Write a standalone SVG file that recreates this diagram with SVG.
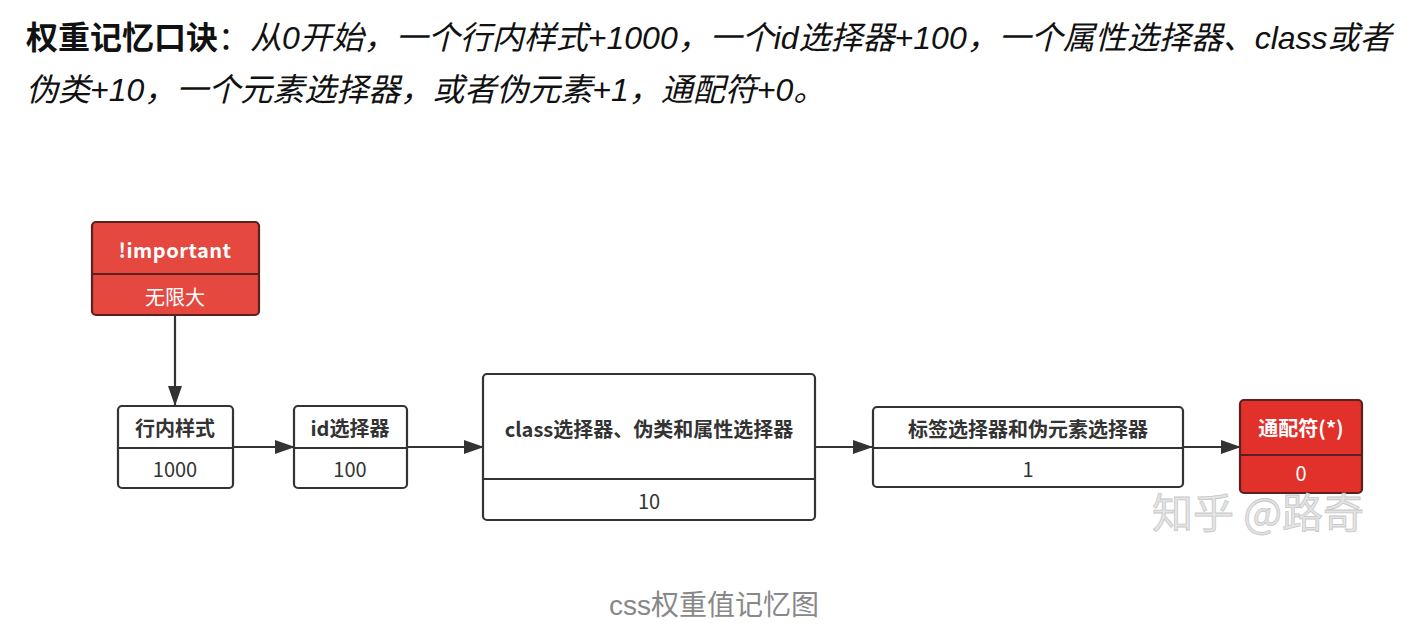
<svg xmlns="http://www.w3.org/2000/svg" width="1428" height="640" viewBox="0 0 1428 640">
<defs>
<marker id="arr" markerWidth="20" markerHeight="14" refX="19" refY="7" orient="auto" markerUnits="userSpaceOnUse">
<path d="M0,0 L20,7 L0,14 Z" fill="#333"/>
</marker>
</defs>
<style>
.hd{font-family:"Liberation Sans","Noto Sans CJK SC",sans-serif;font-size:32px;fill:#111}
.box{fill:#fff;stroke:#333;stroke-width:2.2}
.red1{fill:#e5483f;stroke:#5b2020;stroke-width:2.2}
.red2{fill:#e2302a;stroke:#5b2020;stroke-width:2.2}
.dv{stroke:#333;stroke-width:2.2}
.dvr{stroke:#5b2020;stroke-width:2.2}
.t{font-family:"Noto Sans CJK SC",sans-serif;font-size:20px;fill:#333;text-anchor:middle;dominant-baseline:central}
.b{font-weight:bold}
.w{fill:#fff}
.conn{stroke:#333;stroke-width:2.2;fill:none}
</style>
<rect width="1428" height="640" fill="#fff"/>
<text class="hd" x="26" y="49"><tspan font-weight="bold">权重记忆口诀</tspan>：<tspan font-style="italic">从0开始，一个行内样式+1000，一个id选择器+100，一个属性选择器、class或者</tspan></text>
<text class="hd" x="26" y="101" font-style="italic">伪类+10，一个元素选择器，或者伪元素+1，通配符+0。</text>
<g id="connectors">
<line class="conn" x1="175" y1="316" x2="175" y2="405" marker-end="url(#arr)"/>
<line class="conn" x1="233" y1="447" x2="294" y2="447" marker-end="url(#arr)"/>
<line class="conn" x1="407" y1="447" x2="483" y2="447" marker-end="url(#arr)"/>
<line class="conn" x1="815" y1="447" x2="872" y2="447" marker-end="url(#arr)"/>
<line class="conn" x1="1183" y1="447" x2="1240" y2="447" marker-end="url(#arr)"/>
</g>
<g id="important">
<rect class="red1" x="92" y="222" width="167" height="93" rx="4"/>
<line class="dvr" x1="92" y1="274" x2="259" y2="274"/>
<text class="t b w" x="175" y="249" letter-spacing="0.5">!important</text>
<text class="t w" x="175" y="296">无限大</text>
</g>
<g id="inline">
<rect class="box" x="118" y="406" width="115" height="82" rx="4"/>
<line class="dv" x1="118" y1="448" x2="233" y2="448"/>
<text class="t b" x="175" y="427">行内样式</text>
<text class="t" x="175" y="468">1000</text>
</g>
<g id="idsel">
<rect class="box" x="294" y="406" width="113" height="82" rx="4"/>
<line class="dv" x1="294" y1="448" x2="407" y2="448"/>
<text class="t b" x="350" y="427">id选择器</text>
<text class="t" x="350" y="468">100</text>
</g>
<g id="classsel">
<rect class="box" x="483" y="374" width="332" height="146" rx="4"/>
<line class="dv" x1="483" y1="479" x2="815" y2="479"/>
<text class="t b" x="649" y="428">class选择器、伪类和属性选择器</text>
<text class="t" x="649" y="500">10</text>
</g>
<g id="tagsel">
<rect class="box" x="873" y="407" width="310" height="80" rx="4"/>
<line class="dv" x1="873" y1="448" x2="1183" y2="448"/>
<text class="t b" x="1028" y="428">标签选择器和伪元素选择器</text>
<text class="t" x="1028" y="468">1</text>
</g>
<g id="universal">
<rect class="red2" x="1240" y="400" width="122" height="93" rx="4"/>
<line class="dvr" x1="1240" y1="455" x2="1362" y2="455"/>
<text class="t b w" x="1301" y="427">通配符(*)</text>
<text class="t w" x="1301" y="472">0</text>
</g>
<text x="1152" y="528" font-family="Noto Sans CJK SC,sans-serif" font-size="41" fill="#e4e4e4" stroke="#c8c8c8" stroke-width="0.8">知乎 @路奇</text>
<text x="714" y="615" font-family="Liberation Sans,Noto Sans CJK SC,sans-serif" font-size="28" fill="#888" text-anchor="middle">css权重值记忆图</text>
</svg>
